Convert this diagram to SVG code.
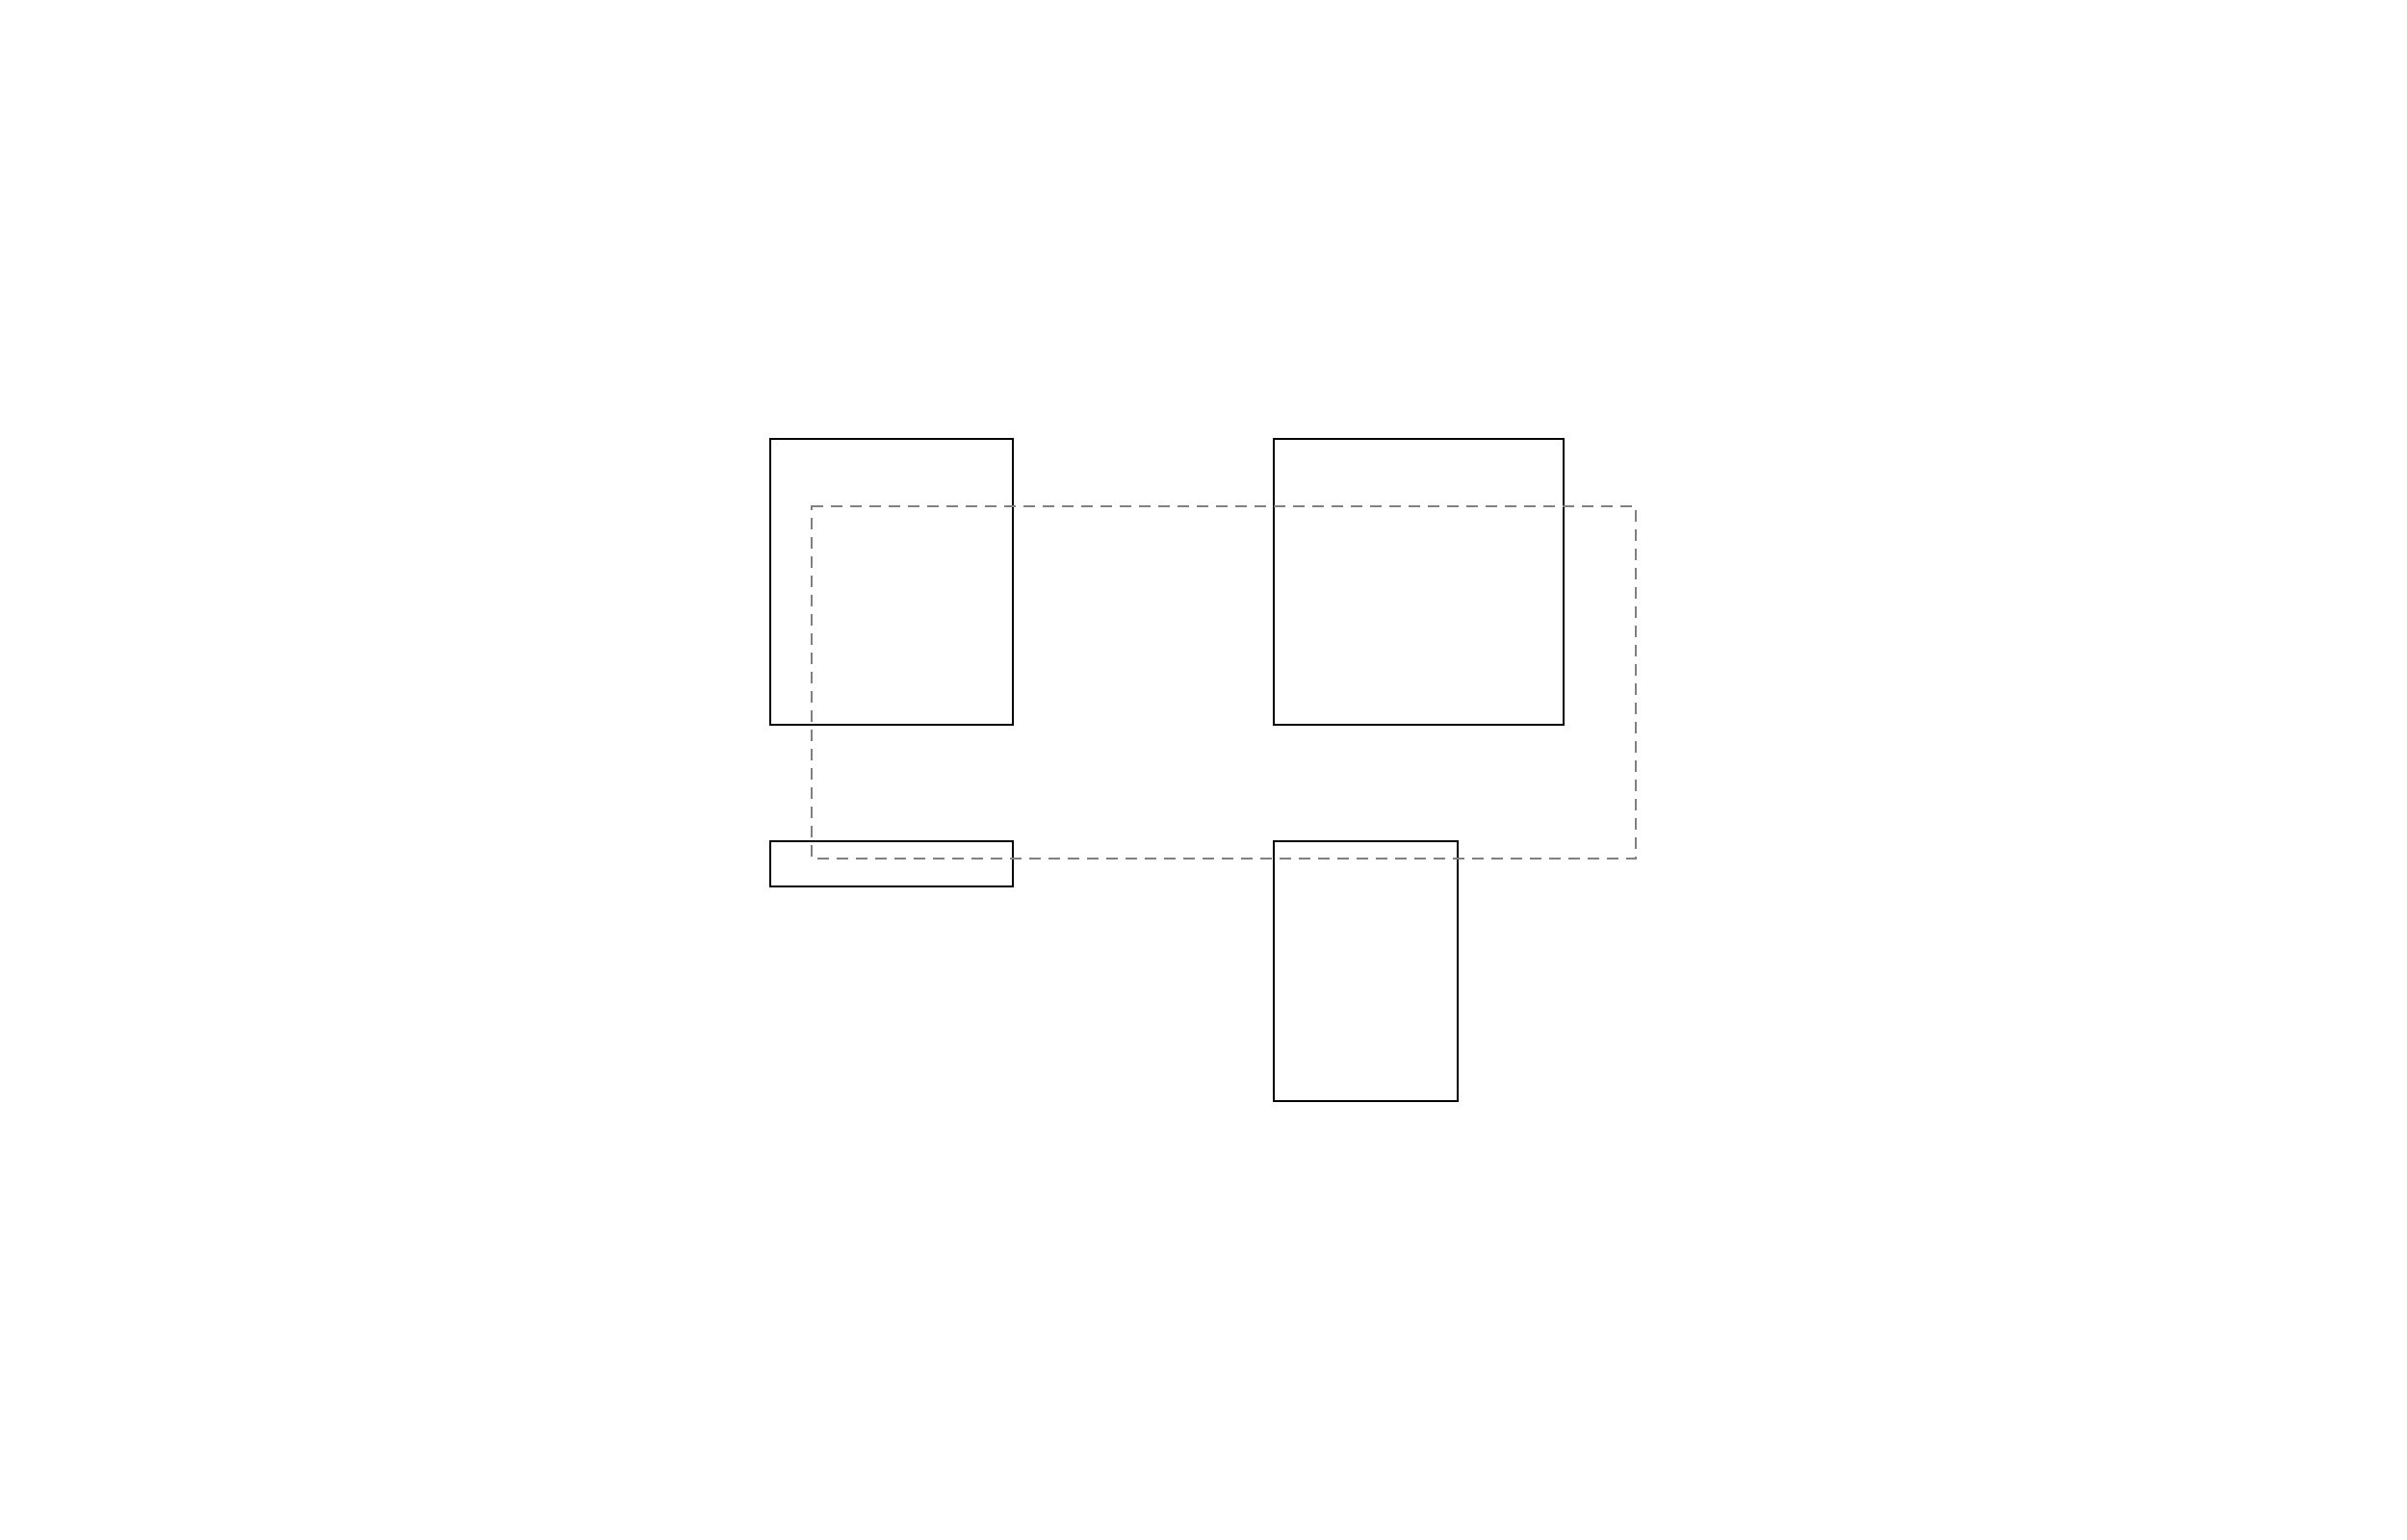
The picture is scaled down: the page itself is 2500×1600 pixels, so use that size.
<svg xmlns="http://www.w3.org/2000/svg" width="2500" height="1600" viewBox="0 0 2500 1600">
<style>
.node{fill:#ffffff;stroke:#000000;stroke-width:2}
.group{fill:none;stroke:#808080;stroke-width:2;stroke-dasharray:12 8}
</style>
<rect x="0" y="0" width="2500" height="1600" fill="#ffffff"/>
<g id="node1"><rect class="node" x="800" y="456" width="252" height="297"/></g>
<g id="node2"><rect class="node" x="1323" y="456" width="301" height="297"/></g>
<g id="node3"><rect class="node" x="800" y="874" width="252" height="47"/></g>
<g id="node4"><rect class="node" x="1323" y="874" width="191" height="270"/></g>
<g id="connectors"></g>
<g id="cluster"><rect class="group" x="843" y="526" width="856" height="366"/></g>
</svg>
